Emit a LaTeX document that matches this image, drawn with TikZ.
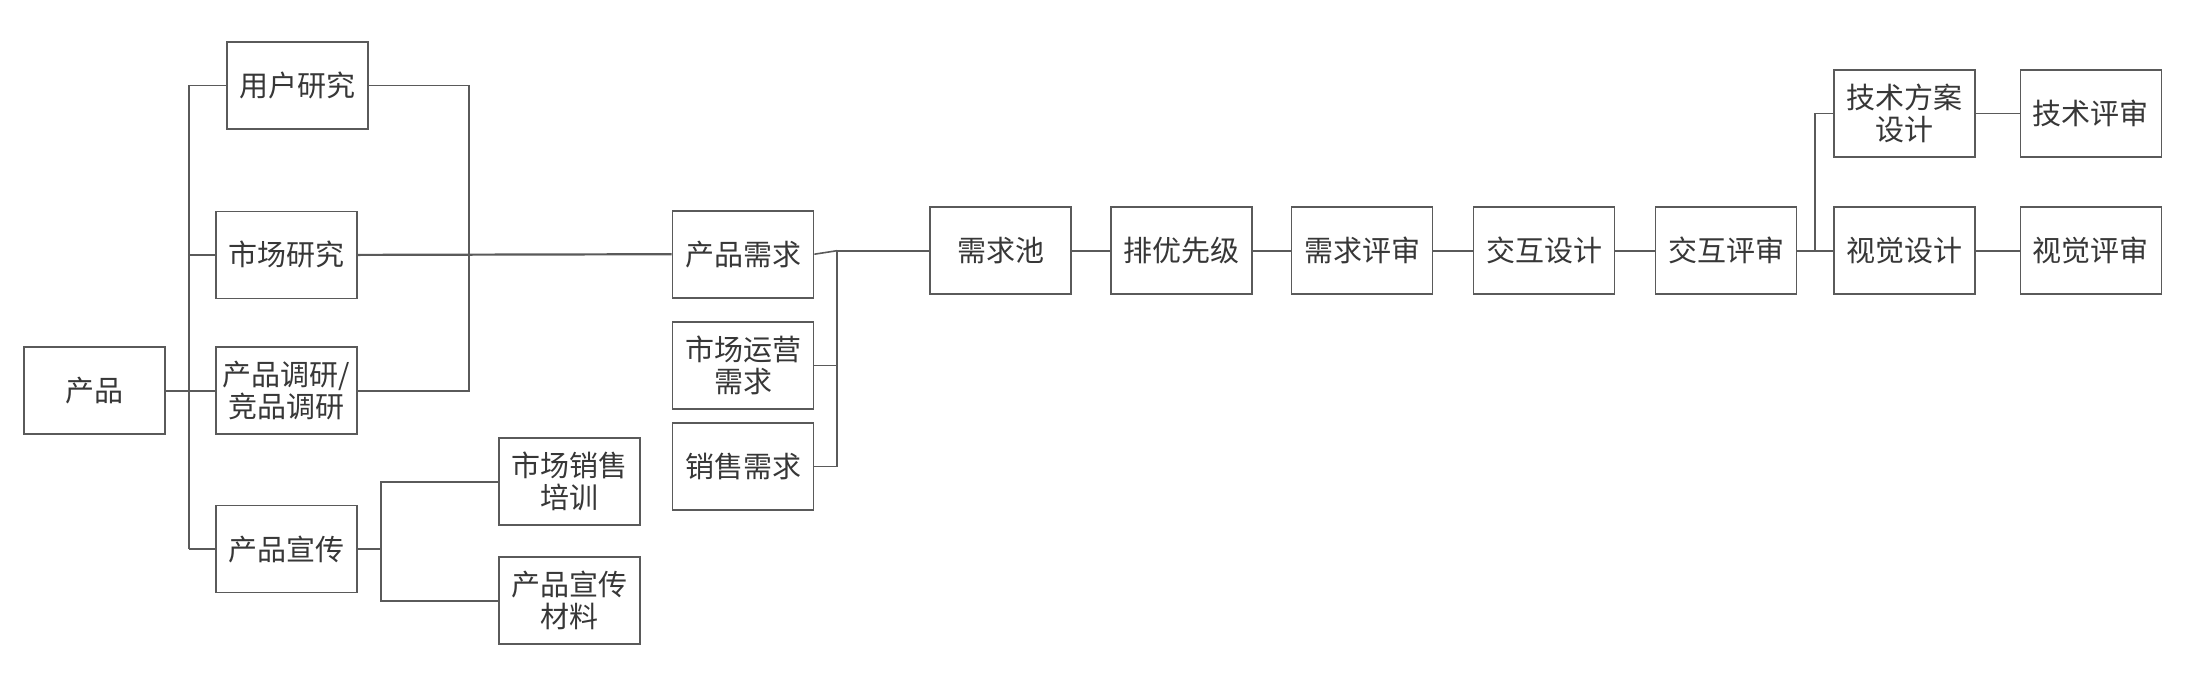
\documentclass[tikz,border=0pt]{standalone}
\usepackage{fontspec}
\newfontfamily\cjk{Noto Sans CJK SC}
\definecolor{linegray}{RGB}{90,90,90}
\definecolor{textgray}{RGB}{55,55,55}
\begin{document}
\begin{tikzpicture}[x=1pt,y=-1pt,
  box/.style={draw=linegray, line width=1.8pt, minimum width=141pt, minimum height=87pt, inner sep=1pt, align=center, font=\cjk\fontsize{29}{32}\selectfont, text=textgray},
  conn/.style={draw=linegray, line width=1.6pt}]
\useasboundingbox (0,0) rectangle (2196,694);
\fill[white] (0,0) rectangle (2196,694);
% nodes
\node[box] (cp) at (94.5,390.7) {产品};
\node[box] (yh) at (297.6,85.4) {用户研究};
\node[box] (sc) at (286.4,254.9) {市场研究};
\node[box] (dy) at (286.4,390.7) {产品调研/\\竞品调研};
\node[box] (xc) at (286.4,549) {产品宣传};
\node[box] (px) at (569.3,481.8) {市场销售\\培训};
\node[box] (cl) at (569.3,600.8) {产品宣传\\材料};
\node[box] (xq) at (743,254.2) {产品需求};
\node[box] (yy) at (743,365.5) {市场运营\\需求};
\node[box] (xs) at (743,466.4) {销售需求};
\node[box] (ch) at (1000.7,250.7) {需求池};
\node[box] (pg) at (1181.3,250.7) {排优先级};
\node[box] (ps) at (1362,250.7) {需求评审};
\node[box] (jh) at (1544,250.7) {交互设计};
\node[box] (jp) at (1726,250.7) {交互评审};
\node[box] (js) at (1904.7,113.4) {技术方案\\设计};
\node[box] (jr) at (2090.9,113.4) {技术评审};
\node[box] (sj) at (1904.7,250.7) {视觉设计};
\node[box] (sr) at (2090.9,250.7) {视觉评审};
% bus coordinates
\coordinate (b1) at (189,0);
\coordinate (b2) at (469,0);
\coordinate (b3) at (381,0);
\coordinate (b4) at (837,0);
\coordinate (b5) at (1815,0);
% left tree
\draw[conn] (cp.east) -- (b1 |- cp.east);
\draw[conn] (b1 |- yh.west) -- (b1 |- xc.west);
\draw[conn] (b1 |- yh.west) -- (yh.west);
\draw[conn] (b1 |- sc.west) -- (sc.west);
\draw[conn] (b1 |- dy.west) -- (dy.west);
\draw[conn] (b1 |- xc.west) -- (xc.west);
% research merge
\draw[conn] (yh.east) -- (b2 |- yh.east) -- (b2 |- dy.east) -- (dy.east);
\draw[conn, line width=2.2pt] (sc.east) -- (xq.west);
% promotion
\draw[conn] (xc.east) -- (b3 |- xc.east);
\draw[conn] (px.west) -- (b3 |- px.west) -- (b3 |- cl.west) -- (cl.west);
% demand merge
\draw[conn] (xq.east) -- (b4 |- ch.west);
\draw[conn, line width=2.2pt] (b4 |- ch.west) -- (ch.west);
\draw[conn] (b4 |- ch.west) -- (b4 |- xs.east) -- (xs.east);
\draw[conn] (yy.east) -- (b4 |- yy.east);
% chain
\draw[conn] (ch) -- (pg);
\draw[conn] (pg) -- (ps);
\draw[conn] (ps) -- (jh);
\draw[conn] (jh) -- (jp);
\draw[conn] (jp.east) -- (sj.west);
\draw[conn] (b5 |- jp.east) -- (b5 |- js.west) -- (js.west);
\draw[conn] (js) -- (jr);
\draw[conn] (sj) -- (sr);
\end{tikzpicture}
\end{document}
